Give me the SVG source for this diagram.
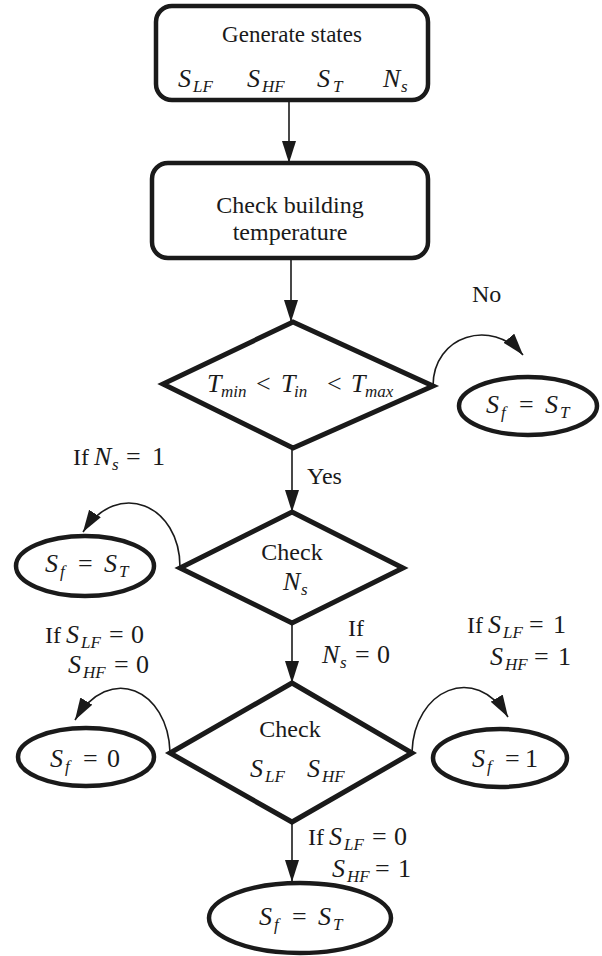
<svg xmlns="http://www.w3.org/2000/svg" width="602" height="956" viewBox="0 0 602 956">
<style>
.bg{fill:#fff}
.shape{fill:#fff;stroke:#1a1a1a;stroke-width:5;stroke-linejoin:miter}
.box{fill:#fff;stroke:#1a1a1a;stroke-width:4.5}
.ell{fill:#fff;stroke:#1a1a1a;stroke-width:4.5}
.con{fill:none;stroke:#1a1a1a;stroke-width:1.6}
.t{font-family:"Liberation Serif","Times New Roman",serif;font-size:24px;fill:#1a1a1a}
.m{font-family:"Liberation Serif","Times New Roman",serif;font-size:26px;fill:#1a1a1a}
.i{font-style:italic}
.s{font-size:17px;font-style:italic}
.r{font-size:24px}
</style>
<defs>
<marker id="ah" markerUnits="userSpaceOnUse" markerWidth="24" markerHeight="16" refX="22" refY="7" orient="auto">
<path d="M0,0 L22,7 L0,14 z" fill="#1a1a1a"/>
</marker>
</defs>
<rect class="bg" x="0" y="0" width="602" height="956"/>
<g id="connectors">
<path class="con" d="M289,100 L289,163" marker-end="url(#ah)"/>
<path class="con" d="M291,258 L291,322" marker-end="url(#ah)"/>
<path class="con" d="M292,448 L292,512" marker-end="url(#ah)"/>
<path class="con" d="M292,623 L292,683" marker-end="url(#ah)"/>
<path class="con" d="M292,820 L292,882" marker-end="url(#ah)"/>
<path class="con" d="M433,386 C433,335 492,318 523,355" marker-end="url(#ah)"/>
<path class="con" d="M180,567 C180,505 118,478 83,532" marker-end="url(#ah)"/>
<path class="con" d="M170,752 C168,690 110,662 75,720" marker-end="url(#ah)"/>
<path class="con" d="M412,752 C414,690 475,662 508,717" marker-end="url(#ah)"/>
</g>
<g id="generate">
<rect class="box" x="156" y="6" width="272" height="94" rx="16"/>
<text class="t" x="292" y="42" text-anchor="middle" style="font-size:23px">Generate states</text>
<text class="m" y="87"><tspan class="i" x="178">S</tspan><tspan class="s" x="193" dy="5">LF</tspan><tspan class="i" x="247" dy="-5">S</tspan><tspan class="s" x="262" dy="5">HF</tspan><tspan class="i" x="317" dy="-5">S</tspan><tspan class="s" x="333" dy="5">T</tspan><tspan class="i" x="383" dy="-5">N</tspan><tspan class="s" x="401" dy="5">s</tspan></text>
</g>
<g id="checkTemp">
<rect class="box" x="152" y="163" width="276" height="95" rx="16"/>
<text class="t" x="290" y="213" text-anchor="middle">Check building</text>
<text class="t" x="290" y="240" text-anchor="middle">temperature</text>
</g>
<g id="tempRange">
<path class="shape" d="M293,322 L433,386 L293,448 L163,384 z"/>
<text class="m" y="392"><tspan class="i" x="207">T</tspan><tspan class="s" x="221" dy="5">min</tspan><tspan x="256" dy="-5">&lt;</tspan><tspan class="i" x="281">T</tspan><tspan class="s" x="294" dy="5">in</tspan><tspan x="327" dy="-5">&lt;</tspan><tspan class="i" x="351">T</tspan><tspan class="s" x="365" dy="5">max</tspan></text>
</g>
<g id="labels">
<text class="t" x="472" y="302">No</text>
<text class="t" x="307" y="484">Yes</text>
<text class="m" y="465"><tspan class="r" x="73">If</tspan><tspan class="i" x="94">N</tspan><tspan class="s" x="112" dy="5">s</tspan><tspan x="126" dy="-5">=</tspan><tspan x="152">1</tspan></text>
<text class="t" x="348" y="636">If</text>
<text class="m" y="663"><tspan class="i" x="322">N</tspan><tspan class="s" x="340" dy="5">s</tspan><tspan x="355" dy="-5">=</tspan><tspan x="377">0</tspan></text>
<text class="m" y="643"><tspan class="r" x="45">If</tspan><tspan class="i" x="66">S</tspan><tspan class="s" x="81" dy="5">LF</tspan><tspan x="109" dy="-5">=</tspan><tspan x="131">0</tspan></text>
<text class="m" y="673"><tspan class="i" x="68">S</tspan><tspan class="s" x="83" dy="5">HF</tspan><tspan x="114" dy="-5">=</tspan><tspan x="136">0</tspan></text>
<text class="m" y="633"><tspan class="r" x="467">If</tspan><tspan class="i" x="488">S</tspan><tspan class="s" x="503" dy="5">LF</tspan><tspan x="529" dy="-5">=</tspan><tspan x="553">1</tspan></text>
<text class="m" y="665"><tspan class="i" x="490">S</tspan><tspan class="s" x="505" dy="5">HF</tspan><tspan x="534" dy="-5">=</tspan><tspan x="558">1</tspan></text>
<text class="m" y="845"><tspan class="r" x="308">If</tspan><tspan class="i" x="329">S</tspan><tspan class="s" x="344" dy="5">LF</tspan><tspan x="372" dy="-5">=</tspan><tspan x="394">0</tspan></text>
<text class="m" y="877"><tspan class="i" x="332">S</tspan><tspan class="s" x="347" dy="5">HF</tspan><tspan x="375" dy="-5">=</tspan><tspan x="398">1</tspan></text>
</g>
<g id="resultNo">
<ellipse class="ell" cx="528" cy="406" rx="69" ry="29"/>
<text class="m" y="413"><tspan class="i" x="486">S</tspan><tspan class="s" x="501" dy="5">f</tspan><tspan x="519" dy="-5">=</tspan><tspan class="i" x="545">S</tspan><tspan class="s" x="560" dy="5">T</tspan></text>
</g>
<g id="checkNs">
<path class="shape" d="M292,512 L403,568 L292,623 L180,568 z"/>
<text class="t" x="292" y="560" text-anchor="middle">Check</text>
<text class="m" y="590"><tspan class="i" x="283">N</tspan><tspan class="s" x="301" dy="5">s</tspan></text>
</g>
<g id="resultNs1">
<ellipse class="ell" cx="85" cy="566" rx="69" ry="30"/>
<text class="m" y="572"><tspan class="i" x="45">S</tspan><tspan class="s" x="60" dy="5">f</tspan><tspan x="78" dy="-5">=</tspan><tspan class="i" x="104">S</tspan><tspan class="s" x="119" dy="5">T</tspan></text>
</g>
<g id="checkSwitch">
<path class="shape" d="M292,683 L412,753 L292,822 L170,753 z"/>
<text class="t" x="290" y="737" text-anchor="middle">Check</text>
<text class="m" y="777"><tspan class="i" x="250">S</tspan><tspan class="s" x="265" dy="5">LF</tspan><tspan class="i" x="307" dy="-5">S</tspan><tspan class="s" x="322" dy="5">HF</tspan></text>
</g>
<g id="result0">
<ellipse class="ell" cx="86" cy="757" rx="68" ry="29"/>
<text class="m" y="767"><tspan class="i" x="50">S</tspan><tspan class="s" x="65" dy="5">f</tspan><tspan x="83" dy="-5">=</tspan><tspan x="107">0</tspan></text>
</g>
<g id="result1">
<ellipse class="ell" cx="500" cy="758" rx="67" ry="29"/>
<text class="m" y="767"><tspan class="i" x="472">S</tspan><tspan class="s" x="487" dy="5">f</tspan><tspan x="505" dy="-5">=</tspan><tspan x="525">1</tspan></text>
</g>
<g id="resultBottom">
<ellipse class="ell" cx="300" cy="918" rx="91" ry="35"/>
<text class="m" y="925"><tspan class="i" x="259">S</tspan><tspan class="s" x="274" dy="5">f</tspan><tspan x="292" dy="-5">=</tspan><tspan class="i" x="318">S</tspan><tspan class="s" x="333" dy="5">T</tspan></text>
</g>
</svg>
